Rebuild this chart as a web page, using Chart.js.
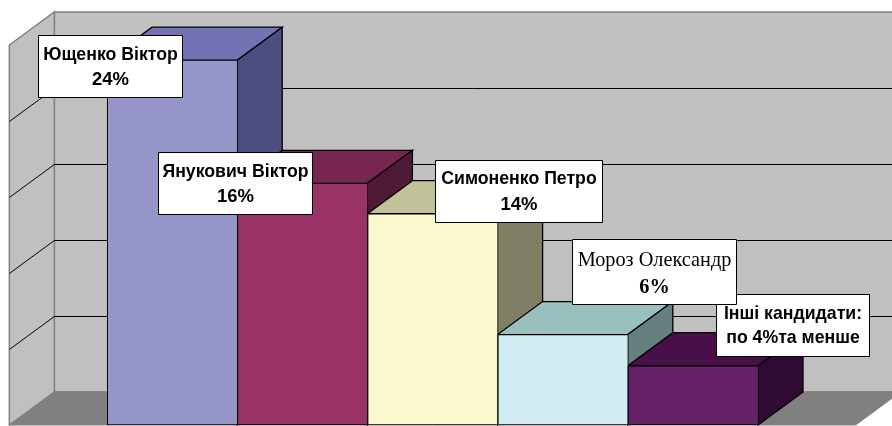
<!DOCTYPE html>
<html>
<head>
<meta charset="utf-8">
<script src="https://cdn.jsdelivr.net/npm/chart.js@4/dist/chart.umd.js"></script>
<style>
  html, body { margin: 0; padding: 0; background: #fff; }
  canvas { display: block; }
</style>
</head>
<body>
<canvas id="chart" width="892" height="426"></canvas>
<script>
// Data
const categories = ['Ющенко Віктор', 'Янукович Віктор', 'Симоненко Петро', 'Мороз Олександр', 'Інші кандидати:'];
const values = [24, 15.9, 13.9, 5.95, 3.9];
const valueLabels = ['24%', '16%', '14%', '6%', 'по 4%та менше'];
const yTicks = [0, 5, 10, 15, 20, 25];

// Face colours per bar
const frontColors = ['#9595C9', '#993366', '#FBF8CE', '#D2ECF3', '#642165'];
const topColors = ['#7373B3', '#76264F', '#C2C29A', '#9ABFBF', '#480F48'];
const sideColors = ['#4D4D80', '#4F1A36', '#7F7F66', '#668080', '#2F0A33'];

// Dragged label boxes: left, top, right, bottom
const labelBoxes = [
  [38.5, 35.5, 182.5, 97.5],
  [158.5, 152.5, 312.5, 214.5],
  [435.5, 160.5, 602.5, 222.5],
  [572.5, 239.5, 736.5, 304.5],
  [716.5, 294.5, 869.5, 356.5]
];
const labelFonts = [
  ['bold 17.7px "Liberation Sans"', 'bold 18.5px "Liberation Sans"'],
  ['bold 17.7px "Liberation Sans"', 'bold 18.5px "Liberation Sans"'],
  ['bold 17.7px "Liberation Sans"', 'bold 18.5px "Liberation Sans"'],
  ['20.3px "Liberation Serif"', 'bold 20.3px "Liberation Serif"'],
  ['bold 17.7px "Liberation Sans"', 'bold 17.7px "Liberation Sans"']
];
// Text line centres inside each box, measured from the box top
const labelLineY = [[20, 44], [20, 44], [19, 44], [21, 48], [20, 44]];

// 3D depth of the plot
const depthX = 45;
const depthY = 33;

function poly(ctx, pts, fill, stroke, lineWidth) {
  ctx.beginPath();
  pts.forEach((p, i) => (i ? ctx.lineTo(p[0], p[1]) : ctx.moveTo(p[0], p[1])));
  ctx.closePath();
  if (fill) {
    ctx.fillStyle = fill;
    ctx.fill();
  }
  if (stroke) {
    ctx.strokeStyle = stroke;
    ctx.lineWidth = lineWidth;
    ctx.stroke();
  }
}

const walls3d = {
  id: 'walls3d',
  beforeDatasetsDraw(chart) {
    const { ctx, scales: { x, y } } = chart;
    const catWidth = x.getPixelForValue(1) - x.getPixelForValue(0);
    const margin = catWidth * 0.75;
    const left = x.left - margin;
    const right = x.right + margin;
    const floor = y.getPixelForValue(0);
    const top = y.getPixelForValue(25);
    ctx.save();

    // back wall, side wall, floor
    poly(ctx, [[left + depthX, top - depthY], [right + depthX, top - depthY], [right + depthX, floor - depthY], [left + depthX, floor - depthY]], '#C0C0C0', '#808080', 1.5);
    poly(ctx, [[left, top], [left + depthX, top - depthY], [left + depthX, floor - depthY], [left, floor]], '#C0C0C0', '#808080', 1.5);
    poly(ctx, [[left, floor], [left + depthX, floor - depthY], [right + depthX, floor - depthY], [right, floor]], '#808080', '#808080', 1);

    // gridlines, snapped so they stay crisp on the back wall
    ctx.strokeStyle = '#000';
    ctx.lineWidth = 1;
    yTicks.slice(1, -1).forEach(t => {
      const py = Math.round(y.getPixelForValue(t)) + 0.5;
      ctx.beginPath();
      ctx.moveTo(left, py);
      ctx.lineTo(left + depthX, py - depthY);
      ctx.lineTo(right + depthX, py - depthY);
      ctx.stroke();
    });

    // bar tops and sides, left to right so the next bar covers the previous side
    chart.getDatasetMeta(0).data.forEach((bar, i) => {
      const l = bar.x - bar.width / 2;
      const r = bar.x + bar.width / 2;
      poly(ctx, [[l, bar.y], [l + depthX, bar.y - depthY], [r + depthX, bar.y - depthY], [r, bar.y]], topColors[i], '#000', 1.3);
      poly(ctx, [[r, bar.y], [r + depthX, bar.y - depthY], [r + depthX, bar.base - depthY], [r, bar.base]], sideColors[i], '#000', 1.3);
    });
    ctx.restore();
  },
  afterDatasetsDraw(chart) {
    const { ctx } = chart;
    ctx.save();
    ctx.textAlign = 'center';
    ctx.textBaseline = 'middle';
    // last box first, the Мороз box sits over its corner
    for (let i = categories.length - 1; i >= 0; i--) {
      const [l, t, r, b] = labelBoxes[i];
      poly(ctx, [[l, t], [r, t], [r, b], [l, b]], '#fff', '#000', 1);
      const cx = (l + r) / 2;
      ctx.fillStyle = '#000';
      ctx.font = labelFonts[i][0];
      ctx.fillText(categories[i], cx, t + labelLineY[i][0]);
      ctx.font = labelFonts[i][1];
      ctx.fillText(valueLabels[i], cx, t + labelLineY[i][1]);
    }
    ctx.restore();
  }
};

new Chart(document.getElementById('chart'), {
  type: 'bar',
  data: {
    labels: categories,
    datasets: [{
      data: values,
      backgroundColor: frontColors,
      borderColor: '#000',
      // neighbours share an edge, so keep the right side thin
      borderWidth: { top: 1, left: 1.3, right: 0.5, bottom: 1 },
      borderSkipped: false,
      categoryPercentage: 1,
      barPercentage: 1
    }]
  },
  options: {
    responsive: false,
    animation: false,
    layout: { padding: { left: 107, right: 134, top: 45, bottom: 1 } },
    plugins: { legend: { display: false }, tooltip: { enabled: false } },
    scales: {
      x: { display: false },
      y: { display: false, min: 0, max: 25, ticks: { stepSize: 5 } }
    }
  },
  plugins: [walls3d]
});
</script>
</body>
</html>
